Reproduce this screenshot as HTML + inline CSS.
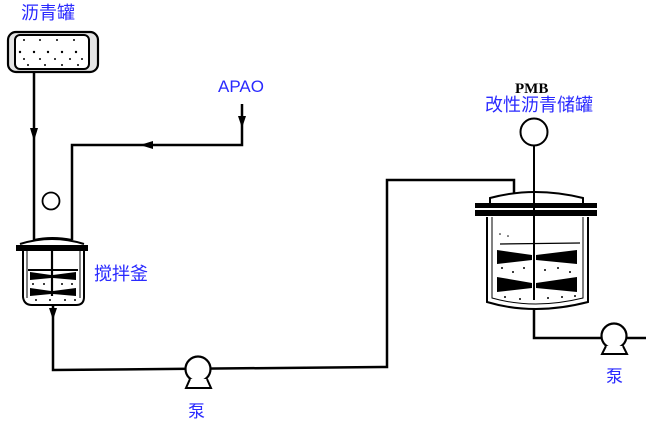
<!DOCTYPE html>
<html><head><meta charset="utf-8"><style>
html,body{margin:0;padding:0;background:#fff;}
svg{display:block;}
.cj{font-family:"Liberation Sans","Noto Sans CJK SC",sans-serif;fill:#2a2aff;}
</style></head><body>
<svg width="655" height="425" viewBox="0 0 655 425" xmlns="http://www.w3.org/2000/svg">
<rect width="655" height="425" fill="#fff"/>
<!-- labels -->
<text x="21" y="19" class="cj" font-size="18">沥青罐</text>
<text x="218" y="92" font-family="Liberation Sans, sans-serif" font-size="17" fill="#2a2aff">APAO</text>
<text x="94" y="280" class="cj" font-size="18">搅拌釜</text>
<text x="188" y="417" class="cj" font-size="17">泵</text>
<text x="606" y="382" class="cj" font-size="17">泵</text>
<text x="515" y="93" font-family="Liberation Serif, serif" font-size="15" font-weight="bold" fill="#000">PMB</text>
<text x="485" y="111" class="cj" font-size="18">改性沥青储罐</text>

<g stroke="#000" fill="none" stroke-width="2.5">
<!-- top tank -->
<rect x="8" y="32" width="90" height="40" rx="8" fill="#e4e4e4" stroke-width="2.2"/>
<rect x="15" y="35" width="74" height="34" rx="5" fill="#fff" stroke-width="2"/>
<!-- pipe from top tank -->
<line x1="34" y1="72" x2="34" y2="240"/>
<!-- APAO pipe -->
<polyline points="242,104 242,145 72,145 72,240"/>
<!-- line to PMB -->
<polyline points="53,304 53,370 387,367 387,180 514,180 514,195"/>
<!-- PMB outlet -->
<polyline points="534,308 534,338 646,338"/>
<!-- circle on left -->
<circle cx="51" cy="201" r="8.5" fill="#fff" stroke-width="1.8"/>
<!-- left reactor -->
<path d="M34,240 Q52,236 72,240" stroke-width="2"/>
<path d="M20,244 Q52,234 84,244" stroke-width="2" fill="#fff"/>
<path d="M23,251 L23,297 Q24,305 32,305 L76,305 Q84,305 84,297 L84,251" stroke-width="2"/>
<path d="M27,251 L27,298 M80,251 L80,298" stroke-width="1"/>
<line x1="52" y1="251" x2="52" y2="296" stroke-width="2.2"/>
<!-- PMB tank -->
<path d="M490,203 L490,198 Q534,186 583,198 L583,203" stroke-width="2" fill="#fff"/>
<path d="M487,217 L487,302 Q534,316 588,302 L588,217" stroke-width="2"/>
<path d="M492,217 L492,298 Q534,310 583,298 L583,217" stroke-width="1"/>
<line x1="534" y1="146" x2="534" y2="300" stroke-width="2"/>
<circle cx="534" cy="132" r="13.5" fill="#fff" stroke-width="2"/>
<line x1="500" y1="244" x2="580" y2="243" stroke-width="1.2"/>
<!-- pumps -->
<circle cx="198" cy="369" r="12.5" fill="#fff" stroke-width="2.2"/>
<path d="M190,379 L186,388 L211,388 L207,379" stroke-width="2" fill="#fff"/>
<circle cx="614" cy="336" r="12.5" fill="#fff" stroke-width="2.2"/>
<path d="M606,346 L602,354 L627,354 L623,346" stroke-width="2" fill="#fff"/>
</g>
<!-- flanges -->
<rect x="16" y="245" width="72" height="6" fill="#000"/>
<rect x="475" y="203" width="122" height="5" fill="#000"/>
<rect x="475" y="210" width="122" height="6" fill="#000"/>
<!-- arrows -->
<g fill="#000">
<polygon points="30,128 38,128 34,141"/>
<polygon points="238,116 246,116 242,128"/>
<polygon points="140,145 153,141 153,149"/>
<polygon points="49,308 57,308 53,320"/>
</g>
<!-- left reactor blades -->
<g fill="#000">
<rect x="28" y="269" width="50" height="2"/>
<polygon points="30,272 51,275 51,278 30,280"/>
<polygon points="53,275 76,272 76,280 53,278"/>
<polygon points="30,288 51,291 51,294 30,296"/>
<polygon points="53,291 76,288 76,296 53,294"/>
</g>
<!-- PMB blades -->
<g fill="#000">
<polygon points="497,250 532,255 532,260 497,264"/>
<polygon points="536,255 577,250 577,264 536,260"/>
<polygon points="497,277 532,283 532,288 497,292"/>
<polygon points="536,283 577,277 577,292 536,288"/>
</g>
<!-- dots -->
<g fill="#000">
<circle cx="24" cy="40" r="1"/><circle cx="40" cy="40" r="1"/><circle cx="57" cy="40" r="1"/><circle cx="74" cy="40" r="1"/>
<circle cx="20" cy="52" r="1.2"/><circle cx="34" cy="52" r="1.2"/><circle cx="48" cy="52" r="1.2"/><circle cx="62" cy="52" r="1.2"/><circle cx="76" cy="52" r="1.2"/>
<circle cx="24" cy="59" r="1"/><circle cx="40" cy="59" r="1"/><circle cx="55" cy="59" r="1"/><circle cx="70" cy="59" r="1"/><circle cx="82" cy="59" r="1"/>
<circle cx="28" cy="65" r="1"/><circle cx="45" cy="65" r="1"/><circle cx="62" cy="65" r="1"/><circle cx="78" cy="65" r="1"/>
<circle cx="33" cy="284" r="1"/><circle cx="44" cy="284" r="1"/><circle cx="62" cy="284" r="1"/><circle cx="72" cy="284" r="1"/>
<circle cx="36" cy="300" r="1"/><circle cx="50" cy="300" r="1"/><circle cx="65" cy="300" r="1"/><circle cx="75" cy="300" r="1"/>
<circle cx="502" cy="268" r="1"/><circle cx="513" cy="272" r="1"/><circle cx="524" cy="268" r="1"/><circle cx="545" cy="270" r="1"/><circle cx="558" cy="268" r="1"/><circle cx="570" cy="272" r="1"/>
<circle cx="505" cy="297" r="1"/><circle cx="520" cy="299" r="1"/><circle cx="548" cy="298" r="1"/><circle cx="562" cy="297" r="1"/><circle cx="575" cy="296" r="1"/>
<circle cx="500" cy="234" r="0.8"/><circle cx="508" cy="236" r="0.8"/>
</g>
</svg>
</body></html>
